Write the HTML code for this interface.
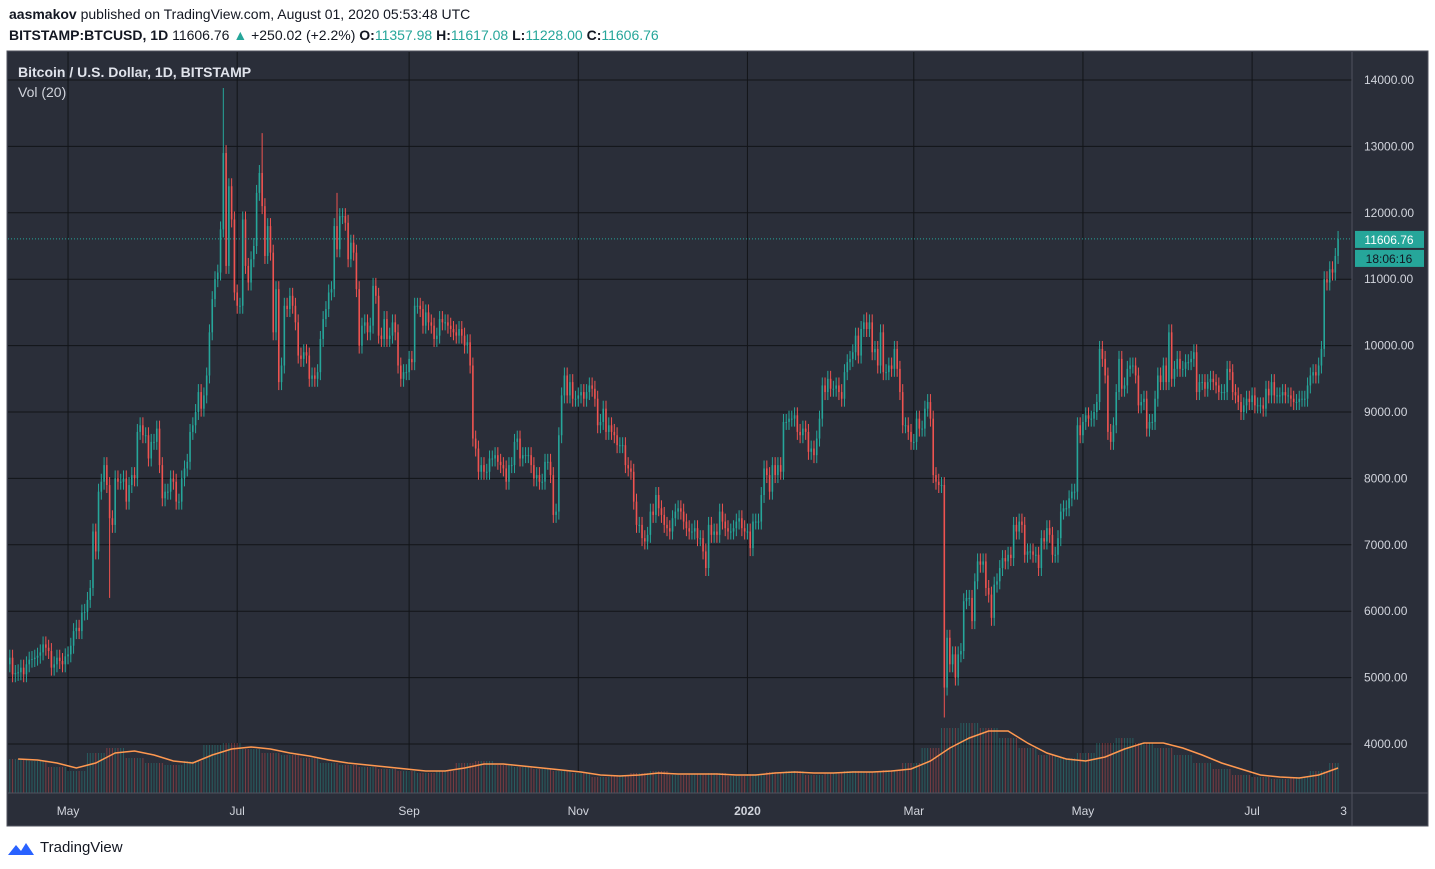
<!DOCTYPE html>
<html><head><meta charset="utf-8">
<style>
body{margin:0;background:#fff;width:1435px;height:869px;overflow:hidden;font-family:"Liberation Sans",sans-serif}
svg{position:absolute;left:0;top:0}
</style></head>
<body>
<svg id="c" width="1435" height="869" xmlns="http://www.w3.org/2000/svg">
<rect x="7" y="51" width="1421" height="775" fill="#2a2e39" stroke="#50535e"/>
<g id="grid"></g>
<g id="vol"></g>
<g id="candles"></g>
<g id="axes"></g>
<text x="9" y="19" font-size="14" fill="#131722"><tspan font-weight="bold">aasmakov</tspan> published on TradingView.com, August 01, 2020 05:53:48 UTC</text>
<text x="9" y="40" font-size="14" fill="#131722"><tspan font-weight="bold">BITSTAMP:BTCUSD, 1D</tspan> 11606.76 <tspan fill="#26a69a">▲</tspan> +250.02 (+2.2%) <tspan font-weight="bold">O:</tspan><tspan fill="#26a69a">11357.98</tspan> <tspan font-weight="bold">H:</tspan><tspan fill="#26a69a">11617.08</tspan> <tspan font-weight="bold">L:</tspan><tspan fill="#26a69a">11228.00</tspan> <tspan font-weight="bold">C:</tspan><tspan fill="#26a69a">11606.76</tspan></text>
<text x="18" y="77" font-size="14" font-weight="bold" fill="#e0e3eb">Bitcoin / U.S. Dollar, 1D, BITSTAMP</text>
<text x="18" y="97" font-size="14" fill="#d1d4dc">Vol (20)</text>
<g><path d="M8 855 L16 845 L21 851 L26 843 L34 855 Z" fill="#2962ff"/><text x="40" y="852" font-size="15" fill="#131722">TradingView</text></g>
</svg>
<script>
const closes=[5300,5050,5070,5080,5150,5050,5200,5270,5280,5300,5330,5380,5500,5450,5400,5150,5200,5300,5250,5200,5320,
5350,5480,5700,5750,5700,5980,5990,6170,6350,7200,6900,7800,7950,8200,7900,7400,7300,8000,7950,7950,8000,7650,7900,8050,8000,8700,8800,8650,8650,8300,8550,
8550,8750,8200,7700,7800,7800,8000,7950,7650,7650,8000,8150,8250,8700,8800,9000,9300,9050,9250,9550,10200,10700,11000,11100,11750,12900,11200,12400,11900,10800,
10600,10600,11900,11200,10950,11300,11500,12300,12600,12100,11350,11800,11400,10200,10850,9450,9700,10600,10550,10750,10600,10350,9850,9800,9900,9850,9500,9550,9500,9600,10100,
10400,10550,10800,10850,11800,11450,11950,11950,11850,11300,11550,11400,10850,10000,10300,10350,10200,10300,10900,10750,10150,10100,10400,10100,10150,10350,10200,9700,9500,9600,9600,
9800,9750,10600,10600,10550,10300,10500,10350,10300,10100,10150,10400,10350,10350,10300,10250,10200,10150,10250,10150,10000,10050,9700,8600,8450,8100,8200,8100,8100,8300,
8300,8350,8250,8200,8150,7950,8200,8200,8550,8600,8300,8350,8350,8350,8200,8000,8050,7950,7950,8250,8250,8050,7450,7500,8650,9250,9550,9250,9450,9200,9200,
9250,9300,9200,9300,9400,9350,9200,8800,8850,9050,8700,8800,8700,8650,8500,8500,8500,8200,8150,8100,7650,7300,7300,7100,7050,7150,7500,7450,7750,7550,
7450,7300,7250,7200,7400,7500,7550,7500,7350,7250,7200,7200,7250,7100,7100,6900,6650,7300,7150,7200,7150,7500,7350,7250,7200,7200,7250,7350,7400,7250,7200,
7200,6950,7350,7350,7350,7750,8150,8050,7800,8200,8050,8200,8100,8850,8850,8900,8900,8950,8700,8650,8750,8700,8400,8450,8350,8600,8900,9400,9300,9500,9350,
9350,9400,9300,9200,9600,9750,9800,9900,10150,9850,10250,10350,10250,10350,9900,9950,9700,10200,9600,9600,9700,9650,9950,9650,9300,8800,8800,8700,8550,
8550,8900,8750,8750,9050,9150,8900,8050,7950,7900,7900,4850,5600,5200,5350,5000,5350,5400,6150,6200,6200,5850,6450,6750,6700,6750,6350,6250,5900,6400,6450,
6650,6800,6750,6850,6800,7300,7200,7350,7300,6850,6900,6900,6850,6850,6650,7100,7050,7250,7150,6850,6850,7100,7500,7550,7550,7700,7800,7800,8800,8650,
8850,8950,8900,8900,9000,9150,9950,9800,9550,8700,8550,8800,9300,9800,9350,9400,9650,9700,9700,9550,9100,9150,9200,8750,8850,8850,9200,9550,9450,9700,9450,
10200,9500,9650,9800,9650,9650,9750,9750,9800,9900,9300,9450,9450,9350,9450,9500,9450,9400,9300,9300,9300,9650,9600,9300,9250,9150,9000,9100,9200,9150,
9250,9100,9100,9100,9050,9350,9250,9450,9250,9250,9250,9300,9250,9250,9200,9150,9150,9200,9200,9200,9400,9550,9600,9550,9700,9950,11000,10950,11150,11100,11350,
11606.76];
const firstOpen=5200;
const bigHighIdx=[77,91,118,309];
const bigHighVal=[13880,13200,12300,10500];
const bigLowIdx=[337,36,337];
const bigLowVal=[4400,6200,4400];
const volWeekly=[34,32,26,22,40,45,35,30,28,32,48,50,44,40,38,35,30,28,26,24,22,20,22,30,32,28,26,24,22,20,16,18,20,22,18,19,20,17,19,21,22,18,20,22,21,23,30,45,65,70,65,55,45,38,35,40,50,55,50,45,38,30,24,18,16,14,16,22,30];
const volMA=[34,33,30,25,30,40,42,38,32,30,38,44,46,44,40,37,33,30,28,26,24,22,22,25,29,29,27,25,23,21,18,17,18,20,19,19,19,18,18,20,21,20,20,21,21,22,24,32,45,55,62,62,50,40,34,32,36,44,50,50,45,38,30,24,18,16,15,18,25];
const priceTicks=[4000,5000,6000,7000,8000,9000,10000,11000,12000,13000,14000];
const timeLabels=["May","Jul","Sep","Nov","2020","Mar","May","Jul","3"];
const timeIdx=[21,82,144,205,266,326,387,448,481];

const NS="http://www.w3.org/2000/svg";
const xOf=i=>9.8+i*2.773;
const yOf=p=>80+(14000-p)*0.0664;
const vBase=793, vY=v=>vBase-v*1.0;
function mk(tag,attrs,parent){const e=document.createElementNS(NS,tag);for(const k in attrs)e.setAttribute(k,attrs[k]);parent.appendChild(e);return e;}
const grid=document.getElementById('grid'),axes=document.getElementById('axes'),cg=document.getElementById('candles'),vg=document.getElementById('vol');
priceTicks.forEach(p=>{
  const l=mk('line',{x1:8,x2:1352,y1:yOf(p),y2:yOf(p),stroke:'#121418','stroke-width':1},grid);
  
  
  const t=mk('text',{x:1364,y:yOf(p)+4,'font-size':12,fill:'#d1d4dc'},axes);t.textContent=p.toFixed(2);
  
  
});
timeIdx.forEach((d,k)=>{
  const x=xOf(d);
  if(k<timeIdx.length-1){const l=mk('line',{x1:x,x2:x,y1:52,y2:793,stroke:'#121418','stroke-width':1},grid);
  
  }
  const t=mk('text',{x:x,y:815,'font-size':12,fill:'#d1d4dc','text-anchor':'middle','font-weight':timeLabels[k]==='2020'?'bold':'normal'},axes);t.textContent=timeLabels[k];
  
  
});
mk('line',{x1:1352,x2:1352,y1:52,y2:826,stroke:'#50535e'},axes);
mk('line',{x1:8,x2:1428,y1:793,y2:793,stroke:'#50535e'},axes);
const vpts=[];
closes.forEach((c,i)=>{
  const o=i?closes[i-1]:firstOpen;const w=Math.min(volWeekly.length-1,Math.floor(i/7));
  const b=mk('rect',{x:xOf(i)-0.5,y:vY(volWeekly[w]),width:1,height:volWeekly[w],fill:c>=o?'#26a69a':'#ef5350',opacity:0.4},vg);
  
  
});
volMA.forEach((v,k)=>vpts.push(xOf(k*7+3)+','+vY(v)));
const ma=mk('polyline',{points:vpts.join(' '),fill:'none',stroke:'#ff9850','stroke-width':1.5},vg);


closes.forEach((c,i)=>{
  const o=i?closes[i-1]:firstOpen;
  let h=Math.max(o,c)+120,l=Math.min(o,c)-120;
  bigHighIdx.forEach((d,k)=>{if(d===i)h=Math.max(h,bigHighVal[k]);});
  bigLowIdx.forEach((d,k)=>{if(d===i)l=Math.min(l,bigLowVal[k]);});
  const col=c>=o?'#26a69a':'#ef5350',x=xOf(i);
  const g=mk('g',{},cg);
  
  
  mk('line',{x1:x,x2:x,y1:yOf(h),y2:yOf(l),stroke:col,'stroke-width':1},g);
  const y1=yOf(Math.max(o,c)),y2=yOf(Math.min(o,c));
  mk('rect',{x:x-0.8,y:y1,width:1.6,height:Math.max(1,y2-y1),fill:col},g);
});
const lp=closes[closes.length-1],ly=yOf(lp);
const pl=mk('line',{x1:8,x2:1352,y1:ly,y2:ly,stroke:'#26a69a','stroke-dasharray':'1 2'},axes);


const bx=mk('rect',{x:1355,y:ly-8,width:69,height:17,fill:'#26a69a'},axes);


const bt=mk('text',{x:1389,y:ly+5,'font-size':12,fill:'#fff','text-anchor':'middle'},axes);bt.textContent=lp.toFixed(2);
const cb=mk('rect',{x:1355,y:ly+11,width:69,height:17,fill:'#26a69a'},axes);


const ct=mk('text',{x:1389,y:ly+24,'font-size':12,fill:'#131722','text-anchor':'middle'},axes);ct.textContent='18:06:16';
</script>
</body></html>
